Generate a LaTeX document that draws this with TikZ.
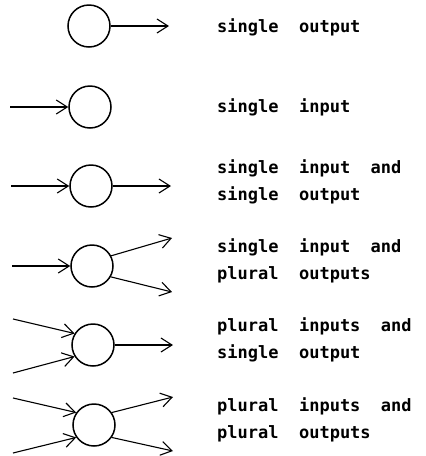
\documentclass[tikz,border=0pt]{standalone}
\usepackage{fontspec}
\setmonofont{DejaVu Sans Mono}
\usetikzlibrary{arrows.meta}
\begin{document}
\begin{tikzpicture}[x=1pt,y=-1pt,
  unit/.style={circle,draw,line width=1.5pt,minimum size=42pt,inner sep=0pt},
  flow/.style={line width=1.1pt,-{Straight Barb[length=11pt,width=14pt,line width=1.1pt]}},
  caption/.style={anchor=base west,inner sep=0pt,font=\ttfamily\bfseries\fontsize{17}{26.5}\selectfont,align=left}]
\useasboundingbox (0,0) rectangle (426,456);

% 1: single output
\node[unit] (c1) at (89,26) {};
\coordinate (o1) at (169,26);
\draw[flow] (c1) -- (o1);
\node[caption] (t1) at (217,32) {single\ \ output};

% 2: single input
\node[unit] (c2) at (90,107) {};
\coordinate (i2) at (10,107);
\draw[flow] (i2) -- (c2);
\node[caption] (t2) at (217,112) {single\ \ input};

% 3: single input and single output
% (two-line captions are placed by the baseline of their last line)
\node[unit] (c3) at (91,186) {};
\coordinate (i3) at (11,186);
\coordinate (o3) at (171,186);
\draw[flow] (i3) -- (c3);
\draw[flow] (c3) -- (o3);
\node[caption] (t3) at (217,200) {single\ \ input\ \ and\\single\ \ output};

% 4: single input and plural outputs
\node[unit] (c4) at (92,266) {};
\coordinate (i4) at (12,266);
\coordinate (o4a) at (172,238);
\coordinate (o4b) at (172,292);
\draw[flow] (i4) -- (c4);
\draw[flow] (c4.28) -- (o4a);
\draw[flow] (c4.-30) -- (o4b);
\node[caption] (t4) at (217,279) {single\ \ input\ \ and\\plural\ \ outputs};

% 5: plural inputs and single output
\node[unit] (c5) at (93,345) {};
\coordinate (i5a) at (13,319);
\coordinate (i5b) at (13,373);
\coordinate (o5) at (173,345);
\draw[flow] (i5a) -- (c5.148);
\draw[flow] (i5b) -- (c5.212);
\draw[flow] (c5) -- (o5);
\node[caption] (t5) at (217,358) {plural\ \ inputs\ \ and\\single\ \ output};

% 6: plural inputs and plural outputs
\node[unit] (c6) at (94,425) {};
\coordinate (i6a) at (13,398);
\coordinate (i6b) at (13,453);
\coordinate (o6a) at (173,397);
\coordinate (o6b) at (173,451);
\draw[flow] (i6a) -- (c6.145);
\draw[flow] (i6b) -- (c6.215);
\draw[flow] (c6.35) -- (o6a);
\draw[flow] (c6.-35) -- (o6b);
\node[caption] (t6) at (217,438) {plural\ \ inputs\ \ and\\plural\ \ outputs};
\end{tikzpicture}
\end{document}
